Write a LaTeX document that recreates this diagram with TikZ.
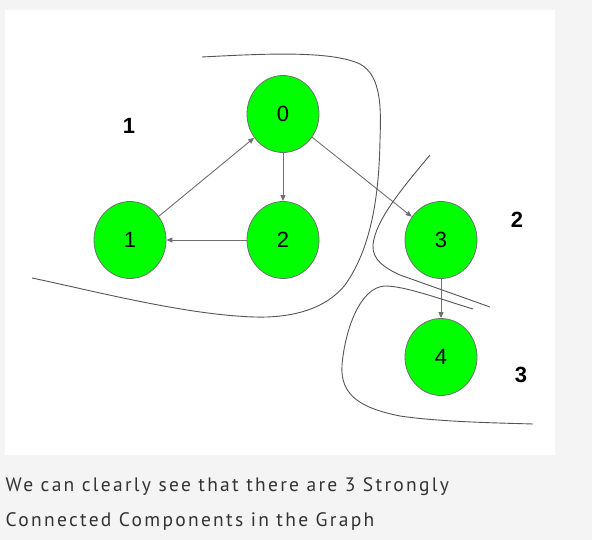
\documentclass[tikz,border=0pt]{standalone}
\usepackage{fontspec}
\setmainfont{Liberation Sans}
\newfontfamily\bodyfont[LetterSpace=11.7]{PT Sans}
\usetikzlibrary{shapes.geometric,arrows.meta}
\definecolor{pagebg}{HTML}{F4F4F4}
\definecolor{nodegreen}{HTML}{00FF00}
\definecolor{edgegray}{HTML}{707070}
\definecolor{curvegray}{HTML}{555555}
\definecolor{textgray}{HTML}{333333}
\tikzset{
  vtx/.style={ellipse, draw=edgegray, fill=nodegreen, line width=0.8pt,
    minimum width=72pt, minimum height=77pt, inner sep=0pt,
    font=\fontsize{22}{22}\selectfont},
  edge/.style={draw=edgegray, line width=0.9pt,
    -{Triangle[length=6pt,width=5pt]}},
  sccline/.style={draw=curvegray, line width=0.9pt},
  scclabel/.style={font=\fontsize{22}{22}\selectfont\bfseries},
  bodytext/.style={font=\fontsize{19.5}{35}\selectfont\bodyfont, text=textgray,
    anchor=base west, inner sep=0pt}
}
\begin{document}
\begin{tikzpicture}[x=1pt,y=-1pt]
\fill[pagebg] (0,0) rectangle (592,540);
\useasboundingbox (0,0) rectangle (592,540);
\fill[white] (5,10) rectangle (555,455);

% nodes
\node[vtx] (n0) at (283,114) {0};
\node[vtx] (n1) at (130,240) {1};
\node[vtx] (n2) at (283,240) {2};
\node[vtx] (n3) at (441,240) {3};
\node[vtx] (n4) at (441,357) {4};

% edges
\draw[edge] (n1) -- (n0);
\draw[edge] (n0) -- (n2);
\draw[edge] (n2) -- (n1);
\draw[edge] (n0) -- (n3);
\draw[edge] (n3) -- (n4);

% SCC boundary curves
\draw[sccline] (202,57) .. controls (260,54) and (330,50) .. (360,64)
  .. controls (382,76) and (381,110) .. (380,140)
  .. controls (379,200) and (370,250) .. (345,285)
  .. controls (325,310) and (290,318) .. (255,317)
  .. controls (185,315) and (90,290) .. (32,278);
\draw[sccline] (430,155) .. controls (405,185) and (375,220) .. (373,245)
  .. controls (372,260) and (385,268) .. (400,275) -- (490,307);
\draw[sccline] (473,309) .. controls (440,299) and (405,286) .. (385,286)
  .. controls (360,287) and (345,330) .. (342,365)
  .. controls (340,395) and (360,408) .. (400,416)
  .. controls (440,422) and (500,423) .. (533,424);

% component labels
\node[scclabel] (c1) at (129,126) {1};
\node[scclabel] (c2) at (517,220) {2};
\node[scclabel] (c3) at (521,375) {3};

% caption
\node[bodytext] (t1) at (5.5,491.5) {We can clearly see that there are 3 Strongly};
\node[bodytext] (t2) at (5.5,526.5) {Connected Components in the Graph};
\end{tikzpicture}
\end{document}
